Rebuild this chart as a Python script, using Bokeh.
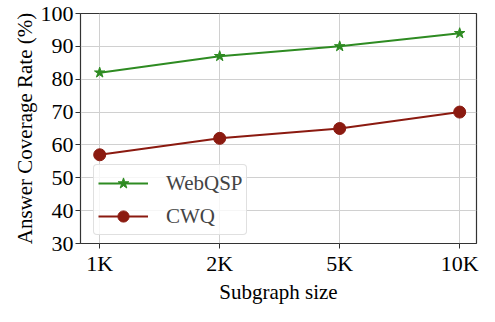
from bokeh.plotting import figure
from bokeh.embed import file_html
from bokeh.resources import INLINE
from bokeh.models import Legend, LegendItem, FixedTicker, Range1d

sizes = ["1K", "2K", "5K", "10K"]
webqsp = [82, 87, 90, 94]
cwq = [57, 62, 65, 70]
y_ticks = [30, 40, 50, 60, 70, 80, 90, 100]

xs = list(range(len(sizes)))
FONT = "Liberation Serif"

p = figure(width=479, height=306, output_backend="svg", toolbar_location=None,
           x_range=Range1d(-0.16, 3.14), y_range=Range1d(30, 100),
           min_border_left=80, min_border_right=3, min_border_top=13, min_border_bottom=50)
p.outline_line_color = "#333333"
p.outline_line_width = 1.2

GREEN = "#2e8b22"
RED = "#8b1a10"

g1 = p.line(xs, webqsp, line_color=GREEN, line_width=2)
s1 = p.scatter(xs, webqsp, marker="star", size=11, fill_color=GREEN, line_color=GREEN)
g2 = p.line(xs, cwq, line_color=RED, line_width=2)
s2 = p.scatter(xs, cwq, marker="circle", size=12, fill_color=RED, line_color=RED)

p.xaxis.ticker = FixedTicker(ticks=xs)
p.xaxis.major_label_overrides = {i: s for i, s in enumerate(sizes)}
p.yaxis.ticker = FixedTicker(ticks=y_ticks)

for ax in (p.xaxis[0], p.yaxis[0]):
    ax.major_label_text_font = FONT
    ax.major_label_text_font_size = "22px"
    ax.major_label_text_color = "black"
    ax.axis_label_text_font = FONT
    ax.axis_label_text_font_size = "21px"
    ax.axis_label_text_font_style = "normal"
    ax.axis_label_text_color = "black"
    ax.axis_line_color = None
    ax.major_tick_line_color = "#333333"
    ax.major_tick_in = 0
    ax.major_tick_out = 5
    ax.minor_tick_line_color = None
    ax.axis_label_standoff = 1
    ax.major_label_standoff = 2

p.xaxis.axis_label = "Subgraph size"
p.yaxis.axis_label = "Answer Coverage Rate (%)"

p.xgrid.grid_line_color = "#d0d0d0"
p.ygrid.grid_line_color = "#d0d0d0"
p.xgrid.grid_line_width = 1
p.ygrid.grid_line_width = 1

legend = Legend(items=[LegendItem(label="WebQSP", renderers=[g1, s1]),
                       LegendItem(label="CWQ", renderers=[g2, s2])],
                location=(13, 8))
legend.label_text_font = FONT
legend.label_text_font_size = "21px"
legend.glyph_width = 50
legend.glyph_height = 28
legend.label_height = 28
legend.label_standoff = 18
legend.spacing = 5
legend.padding = 4
legend.margin = 0
legend.border_line_color = "#dddddd"
legend.border_line_alpha = 0.9
legend.border_radius = 4
legend.background_fill_alpha = 0.8
p.add_layout(legend, "center")

open("out.html", "w").write(file_html(p, INLINE))
